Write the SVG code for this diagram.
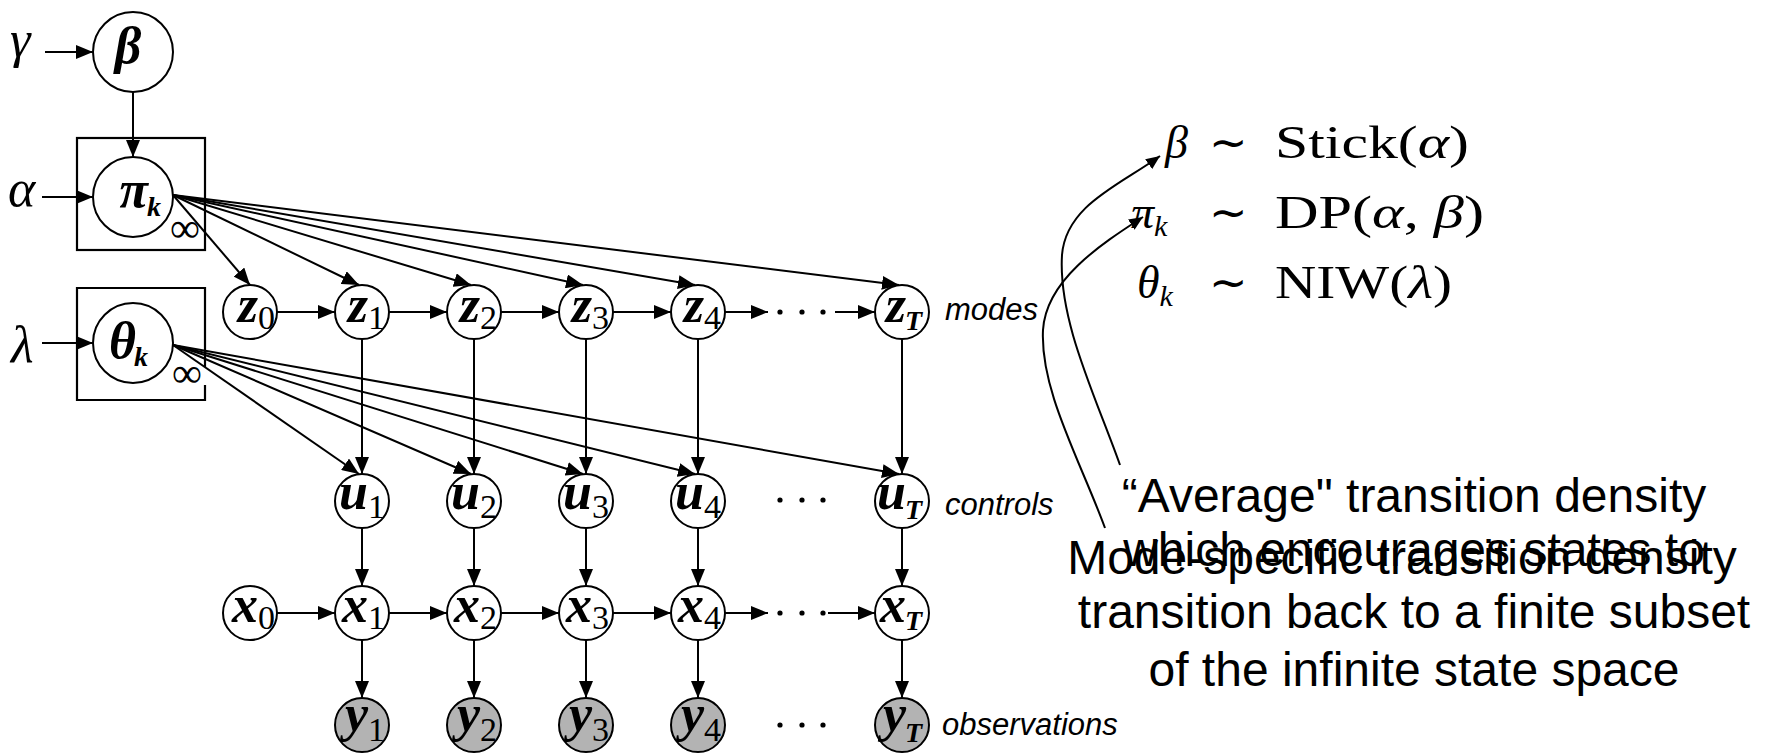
<svg xmlns="http://www.w3.org/2000/svg" width="1765" height="753" viewBox="0 0 1765 753">
<style>
.n{fill:#fff;stroke:#000;stroke-width:2}
.obs{fill:#b3b3b3;stroke:#000;stroke-width:2}
.pl{fill:none;stroke:#000;stroke-width:2.2}
.e{fill:none;stroke:#000;stroke-width:2;marker-end:url(#ah)}
.c{fill:none;stroke:#000;stroke-width:2;marker-end:url(#ahs)}
.v{font-family:"Liberation Serif",serif;font-style:italic;font-weight:bold;font-size:52px}
.s{font-family:"Liberation Serif",serif;font-size:34px}
.sk{font-family:"Liberation Serif",serif;font-style:italic;font-weight:bold;font-size:28px}
.g{font-family:"Liberation Serif",serif;font-style:italic;font-size:52px}
.inf{font-family:"Liberation Serif",serif;font-size:42px}
.lab{font-family:"Liberation Sans",sans-serif;font-style:italic;font-size:31px}
.eq{font-family:"Liberation Serif",serif;font-size:46px}
.eqi{font-style:italic}
.t{font-family:"Liberation Sans",sans-serif;font-size:48px;text-anchor:middle}
.dot{fill:#000}
</style>
<defs>
<marker id="ah" markerUnits="userSpaceOnUse" markerWidth="17" markerHeight="14" refX="17" refY="7" orient="auto"><path d="M0,0 L17,7 L0,14 z" fill="#000"/></marker>
<marker id="ahs" markerUnits="userSpaceOnUse" markerWidth="14" markerHeight="12" refX="14" refY="6" orient="auto"><path d="M0,0 L14,6 L0,12 z" fill="#000"/></marker>
</defs>
<rect width="1765" height="753" fill="#fff"/>

<g id="connectors">
<path class="e" d="M45,52 H93"/>
<path class="e" d="M42,197 H93"/>
<path class="e" d="M42,343 H93"/>
<path class="e" d="M133,92 V157"/>
<path class="e" d="M173,195 L250,285"/>
<path class="e" d="M173,195 L359,285"/>
<path class="e" d="M173,195 L471,285"/>
<path class="e" d="M173,195 L583,285"/>
<path class="e" d="M173,195 L695,285"/>
<path class="e" d="M173,195 L899,285"/>
<path class="e" d="M173,345 L359,474"/>
<path class="e" d="M173,345 L471,474"/>
<path class="e" d="M173,345 L583,474"/>
<path class="e" d="M173,345 L695,474"/>
<path class="e" d="M173,345 L899,474"/>
<path class="e" d="M277,312 H335"/>
<path class="e" d="M389,312 H447"/>
<path class="e" d="M501,312 H559"/>
<path class="e" d="M613,312 H671"/>
<path class="e" d="M725,312 H768"/>
<path class="e" d="M835,312 H875"/>
<path class="e" d="M277,613 H335"/>
<path class="e" d="M389,613 H447"/>
<path class="e" d="M501,613 H559"/>
<path class="e" d="M613,613 H671"/>
<path class="e" d="M725,613 H768"/>
<path class="e" d="M828,613 H875"/>
<path class="e" d="M362,339 V474"/><path class="e" d="M474,339 V474"/><path class="e" d="M586,339 V474"/><path class="e" d="M698,339 V474"/><path class="e" d="M902,339 V474"/>
<path class="e" d="M362,528 V586"/><path class="e" d="M474,528 V586"/><path class="e" d="M586,528 V586"/><path class="e" d="M698,528 V586"/><path class="e" d="M902,528 V586"/>
<path class="e" d="M362,640 V698"/><path class="e" d="M474,640 V698"/><path class="e" d="M586,640 V698"/><path class="e" d="M698,640 V698"/><path class="e" d="M902,640 V698"/>
<path class="c" d="M1120,465 C1095,395 1058,320 1062,255 C1066,205 1120,185 1160,156"/>
<path class="c" d="M1105,528 C1080,460 1040,390 1043,330 C1046,280 1100,245 1143,217"/>
</g>

<g id="dots">
<circle class="dot" cx="780" cy="312" r="2.6"/><circle class="dot" cx="802" cy="312" r="2.6"/><circle class="dot" cx="823" cy="312" r="2.6"/>
<circle class="dot" cx="780" cy="500" r="2.6"/><circle class="dot" cx="802" cy="500" r="2.6"/><circle class="dot" cx="823" cy="500" r="2.6"/>
<circle class="dot" cx="780" cy="613" r="2.6"/><circle class="dot" cx="802" cy="613" r="2.6"/><circle class="dot" cx="823" cy="613" r="2.6"/>
<circle class="dot" cx="780" cy="725" r="2.6"/><circle class="dot" cx="802" cy="725" r="2.6"/><circle class="dot" cx="823" cy="725" r="2.6"/>
</g>

<g id="hyper">
<text class="g" x="10" y="57">γ</text>
<text class="g" x="8" y="206">α</text>
<text class="g" x="11" y="362">λ</text>
</g>

<g id="beta"><circle class="n" cx="133" cy="52" r="40"/><text class="v" x="128" y="63" text-anchor="middle" font-size="50">β</text></g>

<g id="plate-pi"><rect class="pl" x="77" y="138" width="128" height="112"/><text class="inf" x="170" y="242">∞</text></g>
<g id="pi"><circle class="n" cx="133" cy="197" r="40"/><text class="v" x="148" y="207" text-anchor="end" font-size="60">π</text><text class="sk" x="147" y="216" font-size="30">k</text></g>

<g id="plate-theta"><path class="pl" d="M205,367 V288 H77 V400 H205 V385"/><text class="inf" x="172" y="387">∞</text></g>
<g id="theta"><circle class="n" cx="133" cy="343" r="40"/><text class="v" x="136" y="358" text-anchor="end" font-size="64">θ</text><text class="sk" x="134" y="366" font-size="30">k</text></g>

<g id="z0"><circle class="n" cx="250" cy="312" r="27"/><text class="v" x="258" y="322" text-anchor="end">z</text><text class="s" x="258" y="329">0</text></g>
<g id="z1"><circle class="n" cx="362" cy="312" r="27"/><text class="v" x="368" y="322" text-anchor="end">z</text><text class="s" x="368" y="329">1</text></g>
<g id="z2"><circle class="n" cx="474" cy="312" r="27"/><text class="v" x="480" y="322" text-anchor="end">z</text><text class="s" x="480" y="329">2</text></g>
<g id="z3"><circle class="n" cx="586" cy="312" r="27"/><text class="v" x="592" y="322" text-anchor="end">z</text><text class="s" x="592" y="329">3</text></g>
<g id="z4"><circle class="n" cx="698" cy="312" r="27"/><text class="v" x="704" y="322" text-anchor="end">z</text><text class="s" x="704" y="329">4</text></g>
<g id="zT"><circle class="n" cx="902" cy="312" r="27"/><text class="v" x="906" y="322" text-anchor="end">z</text><text class="sk" x="905" y="330" font-size="31">T</text></g>

<g id="u1"><circle class="n" cx="362" cy="501" r="27"/><text class="v" x="368" y="509" text-anchor="end">u</text><text class="s" x="368" y="518">1</text></g>
<g id="u2"><circle class="n" cx="474" cy="501" r="27"/><text class="v" x="480" y="509" text-anchor="end">u</text><text class="s" x="480" y="518">2</text></g>
<g id="u3"><circle class="n" cx="586" cy="501" r="27"/><text class="v" x="592" y="509" text-anchor="end">u</text><text class="s" x="592" y="518">3</text></g>
<g id="u4"><circle class="n" cx="698" cy="501" r="27"/><text class="v" x="704" y="509" text-anchor="end">u</text><text class="s" x="704" y="518">4</text></g>
<g id="uT"><circle class="n" cx="902" cy="501" r="27"/><text class="v" x="906" y="509" text-anchor="end">u</text><text class="sk" x="905" y="519" font-size="31">T</text></g>

<g id="x0"><circle class="n" cx="250" cy="613" r="27"/><text class="v" x="258" y="622" text-anchor="end">x</text><text class="s" x="258" y="629">0</text></g>
<g id="x1"><circle class="n" cx="362" cy="613" r="27"/><text class="v" x="368" y="622" text-anchor="end">x</text><text class="s" x="368" y="629">1</text></g>
<g id="x2"><circle class="n" cx="474" cy="613" r="27"/><text class="v" x="480" y="622" text-anchor="end">x</text><text class="s" x="480" y="629">2</text></g>
<g id="x3"><circle class="n" cx="586" cy="613" r="27"/><text class="v" x="592" y="622" text-anchor="end">x</text><text class="s" x="592" y="629">3</text></g>
<g id="x4"><circle class="n" cx="698" cy="613" r="27"/><text class="v" x="704" y="622" text-anchor="end">x</text><text class="s" x="704" y="629">4</text></g>
<g id="xT"><circle class="n" cx="902" cy="613" r="27"/><text class="v" x="906" y="622" text-anchor="end">x</text><text class="sk" x="905" y="630" font-size="31">T</text></g>

<g id="y1"><circle class="obs" cx="362" cy="725" r="27"/><text class="v" x="368" y="731" text-anchor="end">y</text><text class="s" x="368" y="741">1</text></g>
<g id="y2"><circle class="obs" cx="474" cy="725" r="27"/><text class="v" x="480" y="731" text-anchor="end">y</text><text class="s" x="480" y="741">2</text></g>
<g id="y3"><circle class="obs" cx="586" cy="725" r="27"/><text class="v" x="592" y="731" text-anchor="end">y</text><text class="s" x="592" y="741">3</text></g>
<g id="y4"><circle class="obs" cx="698" cy="725" r="27"/><text class="v" x="704" y="731" text-anchor="end">y</text><text class="s" x="704" y="741">4</text></g>
<g id="yT"><circle class="obs" cx="902" cy="725" r="27"/><text class="v" x="906" y="731" text-anchor="end">y</text><text class="sk" x="905" y="742" font-size="31">T</text></g>

<g id="row-labels">
<text class="lab" x="945" y="320">modes</text>
<text class="lab" x="945" y="515">controls</text>
<text class="lab" x="942" y="735">observations</text>
</g>

<g id="equations">
<text class="eq eqi" x="1165" y="158">β</text>
<text class="eq" x="1228" y="158" text-anchor="middle">∼</text>
<text class="eq" x="1275" y="158" textLength="194" lengthAdjust="spacingAndGlyphs">Stick(<tspan class="eqi">α</tspan>)</text>
<text class="eq eqi" x="1131" y="228">π<tspan font-size="30" dy="8">k</tspan></text>
<text class="eq" x="1228" y="228" text-anchor="middle">∼</text>
<text class="eq" x="1275" y="228" textLength="209" lengthAdjust="spacingAndGlyphs">DP(<tspan class="eqi">α</tspan>, <tspan class="eqi">β</tspan>)</text>
<text class="eq eqi" x="1137" y="298">θ<tspan font-size="30" dy="8">k</tspan></text>
<text class="eq" x="1228" y="298" text-anchor="middle">∼</text>
<text class="eq" x="1275" y="298" textLength="177" lengthAdjust="spacingAndGlyphs">NIW(<tspan class="eqi">λ</tspan>)</text>
</g>

<g id="note-average">
<text class="t" x="1414" y="512">“Average" transition density</text>
<text class="t" x="1414" y="566">which encourages states to</text>
<text class="t" x="1414" y="628">transition back to a finite subset</text>
<text class="t" x="1414" y="686">of the infinite state space</text>
</g>
<g id="note-mode">
<text class="t" x="1402" y="574">Mode-specific transition density</text>
</g>
</svg>
